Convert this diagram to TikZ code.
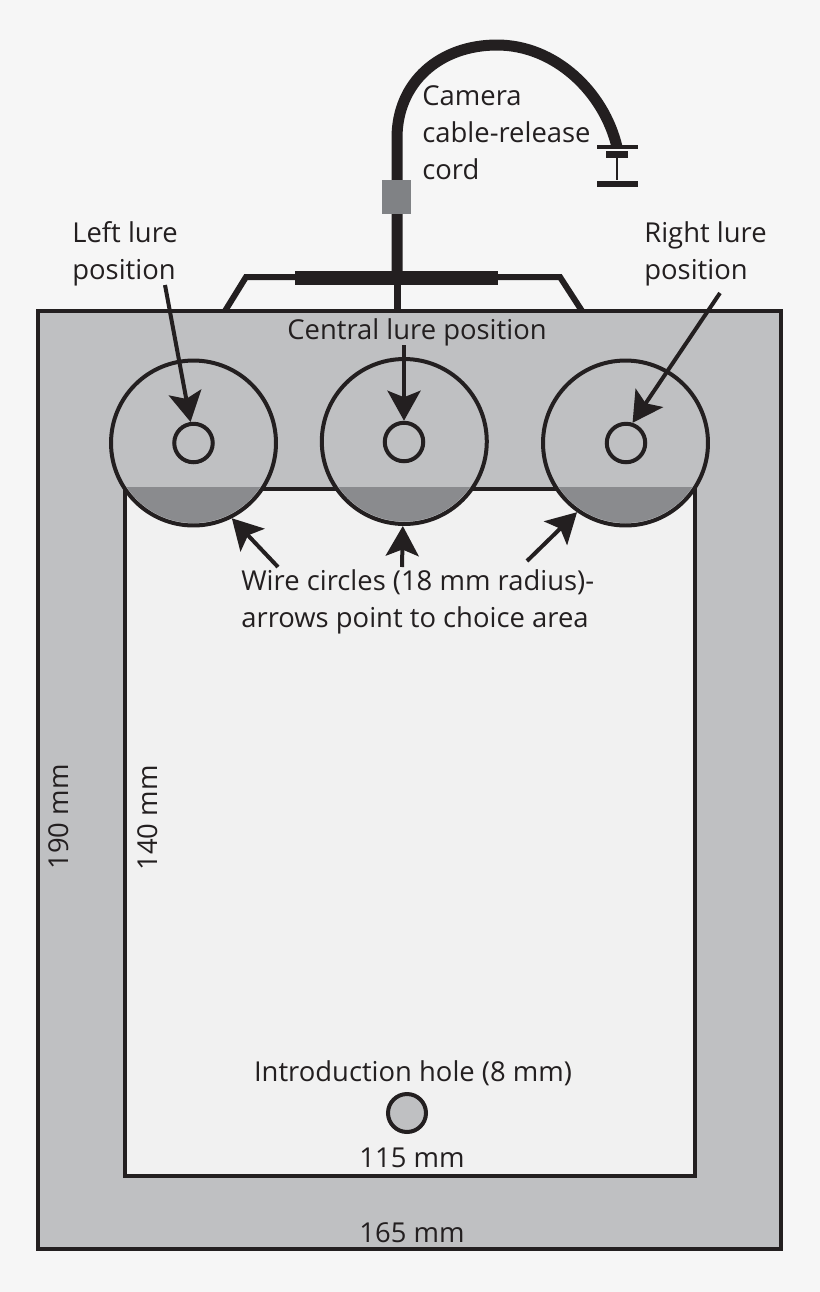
\documentclass[tikz,border=0pt]{standalone}
\usepackage{fontspec}
\setmainfont{Open Sans}
\usetikzlibrary{positioning}
\usetikzlibrary{arrows.meta}
\definecolor{linec}{HTML}{231F20}
\definecolor{paperc}{HTML}{F6F6F6}
\definecolor{framec}{HTML}{BFC0C2}
\definecolor{floorc}{HTML}{F1F1F1}
\definecolor{choicec}{HTML}{8A8B8E}
\definecolor{clampc}{HTML}{808285}
\tikzset{
  wirecircle/.style={draw=linec, line width=0.08cm, fill=framec, shape=circle, inner sep=0pt, minimum size=3.3cm},
  lurecircle/.style={draw=linec, line width=0.08cm, shape=circle, inner sep=0pt, minimum size=0.77cm},
  pointer/.style={draw=linec, line width=0.08cm, -{Stealth[length=0.6cm,width=0.66cm,inset=0.13cm]}},
  cablerun/.style={draw=linec, line width=0.22cm},
  mount/.style={draw=linec, line width=0.12cm},
  labeltext/.style={text=linec, inner sep=0pt, align=left, font=\fontsize{15.6pt}{21pt}\selectfont}
}

\begin{document}
\begin{tikzpicture}[x=0.02cm,y=-0.02cm]
\useasboundingbox (0,0) rectangle (820,1292);
\fill[paperc] (0,0) rectangle (820,1292);

% box and floor
\draw[linec, line width=0.08cm, fill=framec] (38,311) rectangle (781,1249);
\draw[linec, line width=0.08cm, fill=floorc] (125,489) rectangle (695,1176);

% wire circles
\node[wirecircle] (leftwire) at (193.5,443) {};
\node[wirecircle] (centrewire) at (404.3,441.5) {};
\node[wirecircle] (rightwire) at (625.5,443) {};
\begin{scope}
\clip (0,487) rectangle (820,600);
\fill[choicec] (leftwire) circle (80);
\fill[choicec] (centrewire) circle (80);
\fill[choicec] (rightwire) circle (80);
\end{scope}

% lure positions
\node[lurecircle] (leftlure) at (193.5,443) {};
\node[lurecircle] (centrelure) at (404,442) {};
\node[lurecircle] (rightlure) at (626,443) {};

% cable
\coordinate (cablefoot) at (397,311);
\coordinate (cablehub) at (397,278);
\coordinate (cablebend) at (397,138);
\coordinate (cabletop) at (497,45);
\coordinate (cableend) at (617,147);
\draw[cablerun, line width=0.14cm] (cablefoot) -- (cablehub);
\draw[cablerun] (cablehub) -- (cablebend)
  .. controls (397,82) and (440,45) .. (cabletop)
  .. controls (555,45) and (604,92) .. (cableend);
\node[draw=clampc, fill=clampc, shape=rectangle, inner sep=0pt, minimum width=0.56cm, minimum height=0.66cm] (clamp) at (396.5,197) {};

% mount
\coordinate (mountleft) at (225,311);
\coordinate (mountlefttop) at (246,277);
\coordinate (mountrighttop) at (560,277);
\coordinate (mountright) at (582,311);
\draw[mount] (mountleft) -- (mountlefttop) -- (mountrighttop) -- (mountright);
\node[fill=linec, shape=rectangle, inner sep=0pt, minimum width=4.06cm, minimum height=0.28cm] (mountbar) at (396.5,278) {};

% release plunger
\node[fill=linec, shape=rectangle, inner sep=0pt, minimum width=0.82cm, minimum height=0.07cm] (plungertop) at (617.5,147) {};
\node[fill=linec, shape=rectangle, inner sep=0pt, minimum width=0.44cm, minimum height=0.14cm] (plungermid) at (617,154) {};
\node[fill=linec, shape=rectangle, inner sep=0pt, minimum width=0.82cm, minimum height=0.13cm] (plungerbase) at (617,184) {};
\draw[linec, line width=0.05cm] (plungermid) -- (plungerbase);

% labels
\node[labeltext, anchor=west] (cablelabel) at (422,133) {Camera\\cable-release\\cord};
\node[labeltext, anchor=west] (leftlabel) at (72,253.5) {Left lure\\position};
\node[labeltext, anchor=west] (rightlabel) at (644,253.5) {Right lure\\position};
\node[labeltext] (centrelabel) at (417,332.5) {Central lure position};
\node[labeltext, anchor=west] (wirelabel) at (241,602) {Wire circles (18 mm radius)-\\arrows point to choice area};
\node[labeltext, rotate=90] (outerheight) at (59,817) {190 mm};
\node[labeltext, rotate=90] (innerheight) at (148,818) {140 mm};
\node[labeltext] (holelabel) at (413,1073) {Introduction hole (8 mm)};
\node[labeltext] (innerwidth) at (412,1158) {115 mm};
\node[labeltext] (outerwidth) at (412,1233) {165 mm};

% introduction hole
\node[draw=linec, line width=0.08cm, fill=framec, shape=circle, inner sep=0pt, minimum size=0.76cm] (hole) at (407,1113) {};

% pointers
\coordinate (lefttail) at (165,285);
\coordinate (centretail) at (404,345);
\coordinate (righttail) at (720,293);
\coordinate (wiretaila) at (278,567);
\coordinate (wiretailb) at (402,567);
\coordinate (wiretailc) at (527,561);
\draw[pointer] (lefttail) -- (leftlure.98);
\draw[pointer] (centretail) -- (centrelure.north);
\draw[pointer] (righttail) -- (rightlure.72);
\draw[pointer] (wiretaila) -- (leftwire.-63);
\draw[pointer] (wiretailb) -- (centrewire.-91);
\draw[pointer] (wiretailc) -- (rightwire.-125);

\end{tikzpicture}
\end{document}
